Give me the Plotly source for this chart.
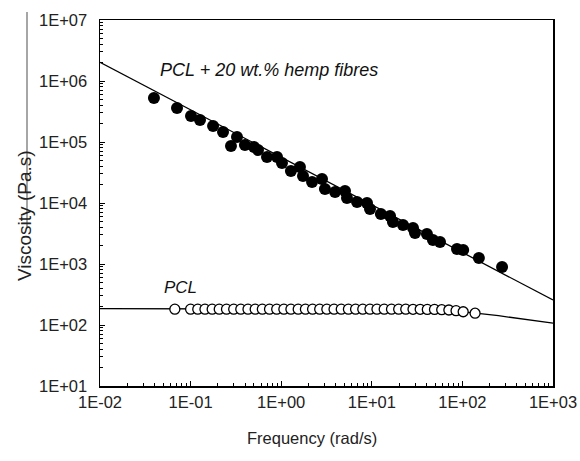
import plotly.graph_objects as go

# Filled: PCL + 20 wt.% hemp fibres (rad/s, Pa.s)
hemp_freq = [0.0394, 0.0708, 0.101, 0.127, 0.177, 0.228, 0.279, 0.325, 0.398, 0.501,
             0.555, 0.697, 0.899, 1.02, 1.28, 1.61, 1.74, 2.19, 2.82, 3.04,
             3.93, 5.06, 5.32, 6.87, 8.85, 9.55, 12.6, 15.9, 17.1, 22.1,
             28.5, 30.0, 40.6, 47.3, 56.6, 87.1, 102, 152, 274]
hemp_visc = [5.26e5, 3.61e5, 2.67e5, 2.30e5, 1.83e5, 1.46e5, 8.6e4, 1.21e5, 8.93e4, 8.28e4,
             7.39e4, 5.68e4, 5.68e4, 4.53e4, 3.35e4, 3.89e4, 2.77e4, 2.21e4, 2.47e4, 1.70e4,
             1.51e4, 1.57e4, 1.21e4, 1.04e4, 1.0e4, 7.98e3, 6.6e3, 6.12e3, 4.89e3, 4.36e3,
             3.89e3, 3.22e3, 3.10e3, 2.47e3, 2.30e3, 1.76e3, 1.70e3, 1.25e3, 893]

# Open: neat PCL
pcl_freq = [0.067, 0.1, 0.12, 0.144, 0.173, 0.207, 0.249, 0.299, 0.358, 0.43,
            0.516, 0.619, 0.743, 0.892, 1.07, 1.28, 1.54, 1.85, 2.22, 2.66,
            3.19, 3.83, 4.6, 5.52, 6.62, 7.95, 9.54, 11.4, 13.7, 16.5,
            19.8, 23.7, 28.5, 34.2, 41.0, 49.2, 59.1, 70.9, 85.1, 102, 138]
pcl_visc = [182, 182, 182, 182, 182, 182, 182, 182, 182, 182,
            182, 182, 182, 182, 182, 182, 182, 182, 182, 182,
            182, 182, 182, 182, 182, 182, 182, 182, 182, 182,
            182, 182, 181, 181, 180, 180, 178, 176, 172, 165, 156]

# Model fit lines
hemp_fit_freq = [0.01, 1000]
hemp_fit_visc = [2.03e6, 257]
pcl_fit_freq = [0.01, 0.1, 1, 10, 30, 60, 100, 140, 250, 500, 1000]
pcl_fit_visc = [186, 185, 184, 182, 180, 175, 166, 157, 142, 123, 107]

x_ticks = [0.01, 0.1, 1, 10, 100, 1000]
x_labels = ["1E-02", "1E-01", "1E+00", "1E+01", "1E+02", "1E+03"]
y_ticks = [1e1, 1e2, 1e3, 1e4, 1e5, 1e6, 1e7]
y_labels = ["1E+01", "1E+02", "1E+03", "1E+04", "1E+05", "1E+06", "1E+07"]

FONT = "Arial, Liberation Sans, sans-serif"

fig = go.Figure()
fig.add_trace(go.Scatter(x=hemp_fit_freq, y=hemp_fit_visc, mode="lines",
                         line=dict(color="black", width=1.3), showlegend=False))
fig.add_trace(go.Scatter(x=pcl_fit_freq, y=pcl_fit_visc, mode="lines",
                         line=dict(color="black", width=1.3), showlegend=False))
fig.add_trace(go.Scatter(x=hemp_freq, y=hemp_visc, mode="markers",
                         marker=dict(symbol="circle", size=12, color="black",
                                     line=dict(width=0)), showlegend=False))
fig.add_trace(go.Scatter(x=pcl_freq, y=pcl_visc, mode="markers",
                         marker=dict(symbol="circle", size=10, color="white",
                                     line=dict(color="black", width=1.3)),
                         showlegend=False))

axis_common = dict(type="log", showgrid=False, zeroline=False, showline=True,
                   linecolor="black", linewidth=1.5, mirror=True,
                   ticks="inside", ticklen=5, tickcolor="black", tickwidth=1,
                   tickfont=dict(family=FONT, size=16.5, color="#222"),
                   minor=dict(ticks="inside", ticklen=3, tickcolor="black",
                              tickwidth=1, dtick="D1", showgrid=False))

fig.update_xaxes(range=[-2, 3], tickvals=x_ticks, ticktext=x_labels,
                 ticklabelstandoff=1, automargin=False, **axis_common)
fig.update_yaxes(range=[1, 7], tickvals=y_ticks, ticktext=y_labels,
                 ticklabelstandoff=8, automargin=False, **axis_common)

fig.update_layout(
    width=580, height=461,
    margin=dict(l=100, r=27, t=20, b=75),
    plot_bgcolor="white", paper_bgcolor="white",
    font=dict(family=FONT, color="#222"),
    annotations=[
        dict(text="<i>PCL + 20 wt.% hemp fibres</i>", x=-1.36, y=6.18,
             xref="x", yref="y", xanchor="left", yanchor="middle",
             showarrow=False, font=dict(family=FONT, size=18, color="#111")),
        dict(text="<i>PCL</i>", x=-1.316, y=2.607, xref="x", yref="y",
             xanchor="left", yanchor="middle", showarrow=False,
             font=dict(family=FONT, size=17, color="#111")),
        dict(text="Frequency (rad/s)", x=(312 - 100) / 453, y=-(438 - 386) / 366,
             xref="paper", yref="paper", xanchor="center", yanchor="middle",
             showarrow=False, font=dict(family=FONT, size=16.5, color="#222")),
        dict(text="Viscosity (Pa.s)", x=(25 - 100) / 453, y=(386 - 216) / 366,
             xref="paper", yref="paper", xanchor="center", yanchor="middle",
             textangle=-90, showarrow=False,
             font=dict(family=FONT, size=19, color="#222")),
    ],
    shapes=[
        dict(type="line", xref="paper", yref="paper",
             x0=(27 - 100) / 453, x1=(27 - 100) / 453,
             y0=(386 - 12) / 366, y1=(386 - 227) / 366,
             line=dict(color="#888", width=1.5)),
    ],
)

fig.write_html(
    "out.html",
    config={"displayModeBar": False, "staticPlot": True},
    post_script="document.body.style.margin='0px';document.body.style.overflow='hidden';",
)
